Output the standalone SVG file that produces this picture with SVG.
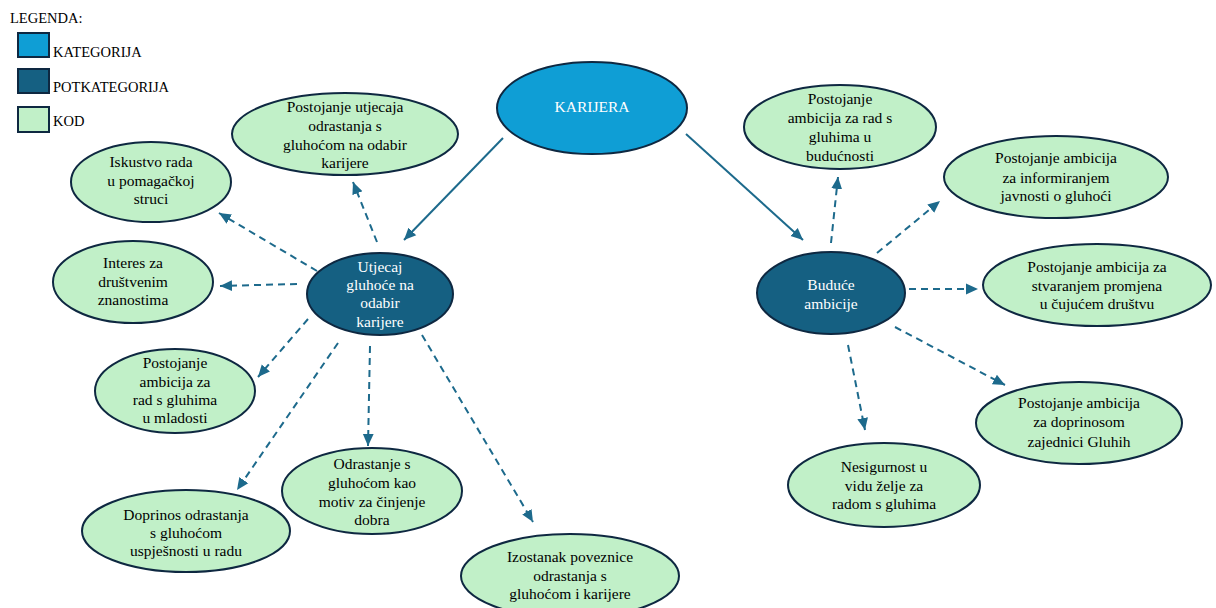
<svg xmlns="http://www.w3.org/2000/svg" width="1216" height="608" viewBox="0 0 1216 608" font-family="Liberation Serif, Times New Roman, serif">
<defs>
<style>
text{font-size:15.5px;fill:#000;text-anchor:middle}
.leg{font-size:14.5px;text-anchor:start}
.cat{fill:#0F9ED5;stroke:#0E2841;stroke-width:2}
.sub{fill:#156082;stroke:#0E2841;stroke-width:2}
.kod{fill:#C1F0C8;stroke:#0E2841;stroke-width:2}
.w{fill:#fff}
.solid{stroke:#1D6A8C;stroke-width:2;fill:none;marker-end:url(#ah)}
.dash{stroke:#1D6A8C;stroke-width:2;fill:none;stroke-dasharray:7 5;marker-end:url(#ah)}
</style>
<marker id="ah" markerUnits="userSpaceOnUse" markerWidth="12" markerHeight="12" viewBox="0 0 10 10" refX="10" refY="5" orient="auto">
<path d="M0,0.5 L10,5 L0,9.5 Z" fill="#1D6A8C"/>
</marker>
</defs>
<rect width="1216" height="608" fill="#fff"/>
<g id="legend">
<text class="leg" x="10" y="23">LEGENDA:</text>
<rect class="cat" x="18" y="33" width="31" height="24"/>
<text class="leg" x="53" y="57">KATEGORIJA</text>
<rect class="sub" x="18" y="69" width="31" height="24"/>
<text class="leg" x="53" y="92">POTKATEGORIJA</text>
<rect class="kod" x="18" y="107" width="31" height="25"/>
<text class="leg" x="53" y="126">KOD</text>
</g>
<g id="connectors">
<path class="solid" d="M503,138 L404,240"/>
<path class="solid" d="M686,134 L803,240"/>
<path class="dash" d="M377,242 L353,182"/>
<path class="dash" d="M317,271 L219,213"/>
<path class="dash" d="M297,284 L220,286"/>
<path class="dash" d="M308,319 L258,377"/>
<path class="dash" d="M338,343 L237,490"/>
<path class="dash" d="M370,346 L368,446"/>
<path class="dash" d="M422,335 L533,522"/>
<path class="dash" d="M831,243 L838,177"/>
<path class="dash" d="M877,253 L940,201"/>
<path class="dash" d="M909,289 L978,289"/>
<path class="dash" d="M895,327 L1005,385"/>
<path class="dash" d="M848,345 L865,430"/>
</g>
<g id="karijera">
<ellipse class="cat" cx="592" cy="108" rx="95" ry="46"/>
<text class="w" x="592" y="112">KARIJERA</text>
</g>
<g id="utjecaj">
<ellipse class="sub" cx="380" cy="294" rx="73" ry="41"/>
<text class="w" x="380"><tspan x="380" y="272">Utjecaj</tspan><tspan x="380" y="290">gluhoće na</tspan><tspan x="380" y="308">odabir</tspan><tspan x="380" y="327">karijere</tspan></text>
</g>
<g id="buduce">
<ellipse class="sub" cx="831" cy="293" rx="74" ry="41"/>
<text class="w" x="831"><tspan x="831" y="290">Buduće</tspan><tspan x="831" y="309">ambicije</tspan></text>
</g>
<g id="k-utjecaj">
<ellipse class="kod" cx="345" cy="134" rx="113" ry="41"/>
<text><tspan x="345" y="112">Postojanje utjecaja</tspan><tspan x="345" y="131">odrastanja s</tspan><tspan x="345" y="150">gluhoćom na odabir</tspan><tspan x="345" y="168">karijere</tspan></text>
</g>
<g id="k-iskustvo">
<ellipse class="kod" cx="151" cy="182" rx="80" ry="40"/>
<text><tspan x="151" y="167">Iskustvo rada</tspan><tspan x="151" y="186">u pomagačkoj</tspan><tspan x="151" y="204">struci</tspan></text>
</g>
<g id="k-interes">
<ellipse class="kod" cx="133" cy="282" rx="80" ry="41"/>
<text><tspan x="133" y="268">Interes za</tspan><tspan x="133" y="287">društvenim</tspan><tspan x="133" y="305">znanostima</tspan></text>
</g>
<g id="k-mladost">
<ellipse class="kod" cx="175" cy="391" rx="80" ry="42"/>
<text><tspan x="175" y="368">Postojanje</tspan><tspan x="175" y="387">ambicija za</tspan><tspan x="175" y="405">rad s gluhima</tspan><tspan x="175" y="423">u mladosti</tspan></text>
</g>
<g id="k-doprinos">
<ellipse class="kod" cx="186" cy="531" rx="104" ry="41"/>
<text><tspan x="186" y="520">Doprinos odrastanja</tspan><tspan x="186" y="538">s gluhoćom</tspan><tspan x="186" y="556">uspješnosti u radu</tspan></text>
</g>
<g id="k-odrastanje">
<ellipse class="kod" cx="372" cy="491" rx="90" ry="43"/>
<text><tspan x="372" y="469">Odrastanje s</tspan><tspan x="372" y="488">gluhoćom kao</tspan><tspan x="372" y="507">motiv za činjenje</tspan><tspan x="372" y="525">dobra</tspan></text>
</g>
<g id="k-izostanak">
<ellipse class="kod" cx="570" cy="576" rx="109" ry="42"/>
<text><tspan x="570" y="562">Izostanak poveznice</tspan><tspan x="570" y="581">odrastanja s</tspan><tspan x="570" y="599">gluhoćom i karijere</tspan></text>
</g>
<g id="k-buducnost">
<ellipse class="kod" cx="840" cy="127" rx="96" ry="42"/>
<text><tspan x="840" y="104">Postojanje</tspan><tspan x="840" y="123">ambicija za rad s</tspan><tspan x="840" y="142">gluhima u</tspan><tspan x="840" y="161">budućnosti</tspan></text>
</g>
<g id="k-informiranje">
<ellipse class="kod" cx="1056" cy="177" rx="112" ry="41"/>
<text><tspan x="1056" y="163">Postojanje ambicija</tspan><tspan x="1056" y="183">za informiranjem</tspan><tspan x="1056" y="201">javnosti o gluhoći</tspan></text>
</g>
<g id="k-stvaranje">
<ellipse class="kod" cx="1097" cy="285" rx="114" ry="41"/>
<text><tspan x="1097" y="272">Postojanje ambicija za</tspan><tspan x="1097" y="291">stvaranjem promjena</tspan><tspan x="1097" y="309">u čujućem društvu</tspan></text>
</g>
<g id="k-zajednica">
<ellipse class="kod" cx="1079" cy="423" rx="103" ry="41"/>
<text><tspan x="1079" y="408">Postojanje ambicija</tspan><tspan x="1079" y="427">za doprinosom</tspan><tspan x="1079" y="447">zajednici Gluhih</tspan></text>
</g>
<g id="k-nesigurnost">
<ellipse class="kod" cx="884" cy="485" rx="96" ry="42"/>
<text><tspan x="884" y="472">Nesigurnost u</tspan><tspan x="884" y="491">vidu želje za</tspan><tspan x="884" y="509">radom s gluhima</tspan></text>
</g>
</svg>
